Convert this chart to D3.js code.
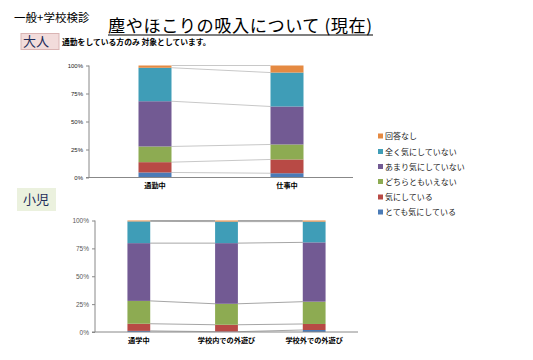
<!DOCTYPE html>
<html><head><meta charset="utf-8">
<script src="https://cdn.jsdelivr.net/npm/d3@7"></script>
<style>
body{margin:0;background:#fff;}
svg{display:block;font-family:"Noto Sans CJK JP","Noto Sans",sans-serif;}
</style></head>
<body><svg id="c" width="533" height="360"></svg>
<script>
// ---- data ----
const seriesKeys = ["とても気にしている","気にしている","どちらともいえない","あまり気にしていない","全く気にしていない","回答なし"];
const seriesColors = ["#4a7bb7","#b84a45","#8dab52","#725a93","#3f9db7","#e58a42"];
const adultCategories = ["通勤中","仕事中"];
const adultValues = [
  [4.5, 3.8],    // とても気にしている
  [9.2, 12.3],   // 気にしている
  [14.0, 13.4],  // どちらともいえない
  [40.4, 33.9],  // あまり気にしていない
  [29.9, 30.3],  // 全く気にしていない
  [2.0, 6.3]     // 回答なし
];
const childCategories = ["通学中","学校内での外遊び","学校外での外遊び"];
const childValues = [
  [1.0, 0.3, 1.8],
  [6.4, 6.2, 5.4],
  [20.5, 18.8, 20.0],
  [51.8, 54.4, 53.2],
  [19.5, 19.3, 18.6],
  [0.8, 1.0, 1.0]
];
const tickValues = [0, 25, 50, 75, 100];
const tickLabels = ["0%","25%","50%","75%","100%"];

const svg = d3.select("#c");

// ---- header texts ----
svg.append("text").attr("x",14).attr("y",22).attr("font-size",11.5).attr("fill","#000").text("一般+学校検診");
svg.append("text").attr("x",108).attr("y",32).attr("font-size",17.2).attr("fill","#000").attr("textLength",264).text("塵やほこりの吸入について (現在)");
svg.append("line").attr("x1",108).attr("x2",373).attr("y1",35).attr("y2",35).attr("stroke","#000").attr("stroke-width",1.2);

svg.append("rect").attr("x",21).attr("y",33.5).attr("width",38).attr("height",16).attr("fill","#f2dcdb").attr("stroke","#dab5b4");
svg.append("text").attr("x",36).attr("y",46).attr("text-anchor","middle").attr("font-size",13).attr("fill","#1f2d5a").text("大人");
svg.append("text").attr("x",62).attr("y",45).attr("font-size",7.8).attr("font-weight","bold").attr("fill","#000").text("通勤をしている方のみ 対象としています。");

svg.append("rect").attr("x",17).attr("y",188).attr("width",39).attr("height",23).attr("fill","#ebf1de");
svg.append("text").attr("x",36).attr("y",204).attr("text-anchor","middle").attr("font-size",13).attr("fill","#1f2d5a").text("小児");

// ---- chart builder ----
function drawChart(cfg){
  const {categories, values, x0, x1, yTop, yBot, barFrac, lineColor, tickColor, tickFont, labelEnd, catY, axisLeftExt} = cfg;
  const rows = categories.map((c,i)=>{const o={cat:c}; seriesKeys.forEach((k,j)=>o[k]=values[j][i]); return o;});
  const stack = d3.stack().keys(seriesKeys)(rows);
  const x = d3.scaleBand().domain(categories).range([x0,x1]).paddingInner(1-barFrac).paddingOuter((1-barFrac)/2);
  const y = d3.scaleLinear().domain([0,100]).range([yBot,yTop]);
  const g = svg.append("g");

  // series lines
  stack.forEach(s=>{
    for(let i=0;i<categories.length-1;i++){
      g.append("line")
        .attr("x1",x(categories[i])+x.bandwidth()).attr("y1",y(s[i][1]))
        .attr("x2",x(categories[i+1])).attr("y2",y(s[i+1][1]))
        .attr("stroke",lineColor).attr("stroke-width",1);
    }
  });
  // bars
  stack.forEach((s,j)=>{
    g.selectAll(null).data(s).enter().append("rect")
      .attr("x",d=>x(d.data.cat)).attr("width",x.bandwidth())
      .attr("y",d=>y(d[1])).attr("height",d=>Math.max(0,y(d[0])-y(d[1])))
      .attr("fill",seriesColors[j]);
  });
  // y axis
  const ya = d3.axisLeft(y).tickValues(tickValues).tickFormat((d,i)=>tickLabels[i]).tickSize(3).tickPadding(labelEnd);
  const ag = g.append("g").attr("transform",`translate(${x0},0)`).call(ya);
  ag.select(".domain").attr("stroke","#888").attr("d",`M0,${yTop}V${yBot}`);
  ag.selectAll(".tick line").attr("stroke","#888");
  ag.selectAll(".tick text").attr("font-size",tickFont).attr("fill",tickColor).attr("font-family","Liberation Sans, sans-serif");
  // x axis
  const xa = d3.axisBottom(x).tickSize(0).tickPadding(catY);
  const xg = g.append("g").attr("transform",`translate(0,${yBot})`).call(xa);
  xg.select(".domain").attr("stroke","#888").attr("d",`M${x0-axisLeftExt},0H${x1}`);
  xg.selectAll(".tick text").attr("font-size",7.2).attr("font-weight","bold").attr("fill","#000").attr("font-family","Noto Sans CJK JP, sans-serif");
}

drawChart({categories:adultCategories, values:adultValues, x0:89, x1:353, yTop:65.5, yBot:177.5,
  barFrac:0.25, lineColor:"#c8c8c8", tickColor:"#222", tickFont:6, labelEnd:3, catY:5, axisLeftExt:3});
drawChart({categories:childCategories, values:childValues, x0:95, x1:358, yTop:220.5, yBot:332,
  barFrac:0.26, lineColor:"#a6a6a6", tickColor:"#595959", tickFont:6.5, labelEnd:3, catY:6, axisLeftExt:3});

// ---- legend ----
const legendY = [212, 197, 181.5, 166.5, 151.5, 136];
const lg = svg.append("g");
seriesKeys.forEach((k,j)=>{
  lg.append("rect").attr("x",378).attr("y",legendY[j]-2.5).attr("width",5).attr("height",5).attr("fill",seriesColors[j]);
  lg.append("text").attr("x",385).attr("y",legendY[j]+3).attr("font-size",8).attr("fill","#222").text(k);
});
</script></body></html>
